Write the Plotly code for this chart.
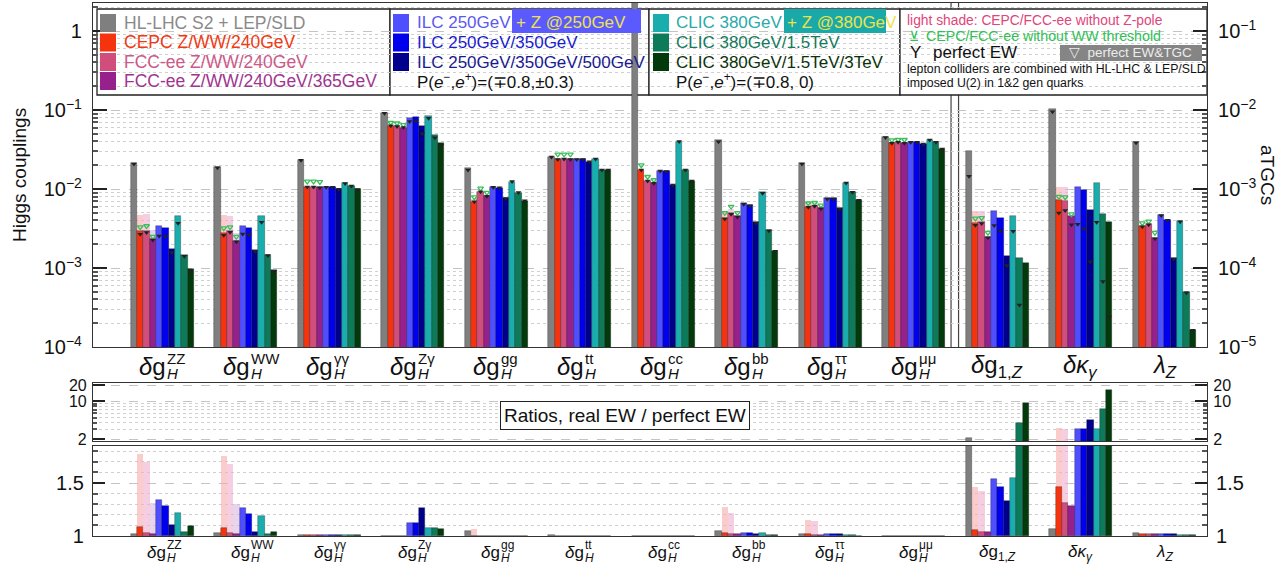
import plotly.graph_objects as go

# ---------------- data ----------------
categories = ["ZZ", "WW", "γγ", "Zγ", "gg", "tt", "cc", "bb", "ττ", "μμ", "g1Z", "κγ", "λZ"]
higgs_sup = ["ZZ", "WW", "γγ", "Zγ", "gg", "tt", "cc", "bb", "ττ", "μμ"]
atgc_labels = ["<i>δ</i>g<sub>1,<i>Z</i></sub>", "<i>δκ</i><sub><i>γ</i></sub>", "<i>λ</i><sub><i>Z</i></sub>"]

series_names = ["HL-LHC S2 + LEP/SLD", "CEPC Z/WW/240GeV", "FCC-ee Z/WW/240GeV",
                "FCC-ee Z/WW/240GeV/365GeV", "ILC 250GeV", "ILC 250GeV/350GeV",
                "ILC 250GeV/350GeV/500GeV", "CLIC 380GeV", "CLIC 380GeV/1.5TeV",
                "CLIC 380GeV/1.5TeV/3TeV"]
bar_colors = ["#7f7f7f", "#f5340f", "#d14d7c", "#96208c", "#4f4fff", "#0000ee",
              "#00008c", "#1aadad", "#0d7a5a", "#033a0c"]
text_colors = ["#8a8a8a", "#f03a14", "#cc5a88", "#a0358f", "#5a5aee", "#1c1cd0",
               "#1a1a90", "#2aaaaa", "#157a5c", "#0b330b"]

# precision on couplings (Higgs: left axis) and aTGCs (right axis)
hl_lhc   = [0.0211, 0.0191, 0.0233, 0.091, 0.0183, 0.0256, 5.0, 0.0417, 0.0211, 0.045, 0.00305, 0.0102, 0.00397]
cepc     = [0.0029, 0.0028, 0.0107, 0.063, 0.0069, 0.0237, 0.0174, 0.0043, 0.0060, 0.038, 0.000368, 0.00073, 0.00034]
fcc240   = [0.0029, 0.0029, 0.0107, 0.062, 0.0092, 0.0240, 0.0126, 0.0049, 0.0061, 0.039, 0.00038, 0.00070, 0.00036]
fcc365   = [0.0023, 0.0022, 0.0105, 0.060, 0.0081, 0.0237, 0.0118, 0.0045, 0.0057, 0.038, 0.00025, 0.00045, 0.00024]
ilc250   = [0.0034, 0.0034, 0.0106, 0.080, 0.0105, 0.0237, 0.0169, 0.0066, 0.0076, 0.039, 0.00053, 0.00107, 0.00047]
ilc350   = [0.0032, 0.0032, 0.0106, 0.081, 0.0104, 0.0237, 0.0167, 0.0063, 0.0076, 0.039, 0.00043, 0.00097, 0.00041]
ilc500   = [0.00173, 0.0017, 0.0100, 0.063, 0.0076, 0.0222, 0.0112, 0.0038, 0.0057, 0.037, 0.000143, 0.00054, 0.000133]
clic380  = [0.0045, 0.0045, 0.0118, 0.085, 0.0124, 0.0240, 0.0398, 0.0091, 0.0120, 0.0417, 0.00045, 0.00118, 0.00039]
clic1500 = [0.00147, 0.00147, 0.0110, 0.048, 0.0090, 0.0174, 0.0174, 0.0030, 0.0092, 0.039, 0.000133, 0.00048, 0.000049]
clic3000 = [0.00098, 0.00093, 0.0099, 0.038, 0.0071, 0.0174, 0.0126, 0.00164, 0.0072, 0.032, 0.000115, 0.000385, 0.0000164]

# light shade: CEPC / FCC-ee without Z-pole
cepc_noZ   = [0.0047, 0.0047, 0.0107, 0.063, 0.0074, 0.0237, 0.0174, 0.0052, 0.0066, 0.038, 0.00052, 0.00107, 0.00034]
fcc240_noZ = [0.0048, 0.0046, 0.0107, 0.062, 0.0095, 0.0240, 0.0126, 0.0056, 0.0066, 0.039, 0.00052, 0.00107, 0.00036]
fcc365_noZ = [0.0030, 0.0028, 0.0105, 0.060, 0.0081, 0.0237, 0.0118, 0.0045, 0.0057, 0.038, 0.00025, 0.00045, 0.00024]

# CEPC / FCC-ee without WW threshold (green markers)
cepc_noWW   = [0.0033, 0.0032, 0.0125, 0.069, 0.0079, 0.0275, 0.0200, 0.0050, 0.0066, 0.0415, 0.000425, 0.00080, 0.00037]
fcc240_noWW = [0.0034, 0.0033, 0.0125, 0.068, 0.0102, 0.0275, 0.0143, 0.0060, 0.0067, 0.0420, 0.00043, 0.00079, 0.00039]
fcc365_noWW = [0.0025, 0.0025, 0.0123, 0.065, 0.0090, 0.0275, 0.0130, 0.0050, 0.0062, 0.0420, 0.00028, 0.00048, 0.00028]

# ratios real EW / perfect EW
r_hl       = [1.02, 1.03, 1.01, 1.00, 1.05, 1.01, 1.00, 1.05, 1.02, 1.00, 2.10, 1.07, 1.03]
r_cepc     = [1.088, 1.075, 1.01, 1.00, 1.00, 1.00, 1.00, 1.03, 1.02, 1.00, 1.06, 1.465, 1.02]
r_fcc240   = [1.03, 1.025, 1.01, 1.00, 1.00, 1.00, 1.00, 1.02, 1.01, 1.00, 1.04, 1.31, 1.02]
r_fcc365   = [1.02, 1.02, 1.01, 1.00, 1.00, 1.00, 1.00, 1.02, 1.01, 1.00, 1.035, 1.28, 1.02]
r_ilc250   = [1.34, 1.26, 1.005, 1.12, 1.00, 1.00, 1.00, 1.03, 1.02, 1.00, 1.54, 3.0, 1.02]
r_ilc350   = [1.28, 1.21, 1.005, 1.12, 1.00, 1.00, 1.00, 1.03, 1.02, 1.00, 1.465, 3.1, 1.02]
r_ilc500   = [1.10, 1.04, 1.005, 1.26, 1.00, 1.00, 1.00, 1.02, 1.02, 1.00, 1.33, 4.5, 1.02]
r_clic380  = [1.22, 1.19, 1.005, 1.08, 1.00, 1.00, 1.00, 1.03, 1.01, 1.00, 1.545, 3.1, 1.01]
r_clic1500 = [1.04, 1.02, 1.005, 1.08, 1.00, 1.00, 1.00, 1.01, 1.01, 1.00, 3.9, 7.1, 1.01]
r_clic3000 = [1.09, 1.04, 1.005, 1.07, 1.00, 1.00, 1.00, 1.01, 1.00, 1.00, 9.4, 16.1, 1.01]
r_cepc_noZ   = [1.77, 1.755, 1.01, 1.00, 1.07, 1.00, 1.00, 1.27, 1.15, 1.00, 1.46, 3.16, 1.02]
r_fcc240_noZ = [1.70, 1.68, 1.01, 1.00, 1.00, 1.00, 1.00, 1.22, 1.14, 1.00, 1.42, 3.1, 1.02]
r_fcc365_noZ = [1.31, 1.30, 1.01, 1.00, 1.00, 1.00, 1.00, 1.02, 1.01, 1.00, 1.04, 1.28, 1.02]

values = [hl_lhc, cepc, fcc240, fcc365, ilc250, ilc350, ilc500, clic380, clic1500, clic3000]
ratios = [r_hl, r_cepc, r_fcc240, r_fcc365, r_ilc250, r_ilc350, r_ilc500, r_clic380, r_clic1500, r_clic3000]
shade_vals = {1: cepc_noZ, 2: fcc240_noZ, 3: fcc365_noZ}
shade_ratios = {1: r_cepc_noZ, 2: r_fcc240_noZ, 3: r_fcc365_noZ}
noww_vals = {1: cepc_noWW, 2: fcc240_noWW, 3: fcc365_noWW}
shade_colors = {1: "rgba(246,170,170,0.6)", 2: "rgba(238,175,205,0.6)", 3: "rgba(215,185,225,0.6)"}

# ---------------- geometry ----------------
W, H = 1285, 566
L, R, T, B = 93, 78, 3, 30
PW, PH = W - L - R, H - T - B
def xp(px): return (px - L) / PW
def yp(py): return (H - B - py) / PH

FONT = "Liberation Sans, Arial, sans-serif"
NH = 10  # number of Higgs couplings
bw = 0.0755
XR = [-0.83, 12.51]

fig = go.Figure()
edge = dict(width=0.6, color="rgba(0,0,0,0.45)")

def xs_for(j, idx):
    return [i + (j - 4.5) * bw for i in idx]

hidx = list(range(NH))
aidx = list(range(NH, len(categories)))
allidx = list(range(len(categories)))

# light shades (behind)
for j in (1, 2, 3):
    v = shade_vals[j]; r = shade_ratios[j]
    mk = dict(color=shade_colors[j], line=dict(width=0))
    fig.add_trace(go.Bar(x=xs_for(j, hidx), y=[v[i] for i in hidx], width=bw, marker=mk,
                         xaxis="x", yaxis="y", showlegend=False))
    fig.add_trace(go.Bar(x=xs_for(j, aidx), y=[v[i] for i in aidx], width=bw, marker=mk,
                         xaxis="x", yaxis="y2", showlegend=False))
    fig.add_trace(go.Bar(x=xs_for(j, allidx), y=r, width=bw, marker=mk,
                         xaxis="x2", yaxis="y3", showlegend=False))
    fig.add_trace(go.Bar(x=xs_for(j, allidx), y=[x - 1 for x in r], base=1, width=bw, marker=mk,
                         xaxis="x3", yaxis="y4", showlegend=False))

# main bars
for j in range(10):
    v = values[j]; r = ratios[j]
    mk = dict(color=bar_colors[j], line=edge)
    fig.add_trace(go.Bar(x=xs_for(j, hidx), y=[v[i] for i in hidx], width=bw, marker=mk,
                         xaxis="x", yaxis="y", name=series_names[j], showlegend=False))
    fig.add_trace(go.Bar(x=xs_for(j, aidx), y=[v[i] for i in aidx], width=bw, marker=mk,
                         xaxis="x", yaxis="y2", showlegend=False))
    fig.add_trace(go.Bar(x=xs_for(j, allidx), y=r, width=bw, marker=mk,
                         xaxis="x2", yaxis="y3", showlegend=False))
    fig.add_trace(go.Bar(x=xs_for(j, allidx), y=[x - 1 for x in r], base=1, width=bw, marker=mk,
                         xaxis="x3", yaxis="y4", showlegend=False))

# green markers: without WW threshold
for j in (1, 2, 3):
    v = noww_vals[j]
    mk = dict(symbol="triangle-down-open", size=5, color="#3cbf5a", line=dict(width=1.3))
    fig.add_trace(go.Scatter(x=xs_for(j, hidx), y=[v[i] for i in hidx], mode="markers", marker=mk,
                             xaxis="x", yaxis="y", showlegend=False))
    fig.add_trace(go.Scatter(x=xs_for(j, aidx), y=[v[i] for i in aidx], mode="markers", marker=mk,
                             xaxis="x", yaxis="y2", showlegend=False))

# perfect EW markers (value / ratio)
for j in range(10):
    v = values[j]; r = ratios[j]
    pe = [v[i] / r[i] for i in allidx]
    mk = dict(symbol="triangle-down", size=5, color="#222")
    fig.add_trace(go.Scatter(x=xs_for(j, hidx), y=[pe[i] for i in hidx], mode="markers", marker=mk,
                             xaxis="x", yaxis="y", showlegend=False))
    fig.add_trace(go.Scatter(x=xs_for(j, aidx), y=[pe[i] for i in aidx], mode="markers", marker=mk,
                             xaxis="x", yaxis="y2", showlegend=False))

# dummy traces for right-hand axes of bottom panel
fig.add_trace(go.Scatter(x=[None], y=[None], xaxis="x2", yaxis="y5", showlegend=False))
fig.add_trace(go.Scatter(x=[None], y=[None], xaxis="x3", yaxis="y6", showlegend=False))

sup = lambda e: "10<sup>−%d</sup>" % e
minor_log = lambda lo, hi: [k * 10 ** e for e in range(lo, hi) for k in range(2, 10)]
LINE = dict(showline=True, linecolor="#333", linewidth=1.2, zeroline=False, automargin=False)
TF20 = dict(family=FONT, size=20, color="#111")
TF16 = dict(family=FONT, size=16, color="#111")
xcommon = dict(domain=[0, 1], range=XR, showticklabels=False, ticks="", showgrid=False, mirror=True, **LINE)

fig.update_layout(
    width=W, height=H, margin=dict(l=L, r=R, t=T, b=B, autoexpand=False),
    paper_bgcolor="white", plot_bgcolor="white", barmode="overlay", bargap=0,
    font=dict(family=FONT, color="#111"),
    xaxis=dict(anchor="y", **xcommon),
    yaxis=dict(type="log", domain=[yp(347), 1], range=[-4, 0.3544], anchor="x",
               tickvals=[1e-4, 1e-3, 1e-2, 1e-1, 1], ticktext=[sup(4), sup(3), sup(2), sup(1), "1"],
               ticks="inside", ticklen=14, tickwidth=1.5, tickcolor="#222", ticklabelstandoff=6,
               minor=dict(tickvals=minor_log(-4, 1), ticks="inside", ticklen=5, tickcolor="#555",
                          showgrid=True, gridcolor="#d0d0d0", griddash="dot"),
               showgrid=True, gridcolor="#c4c4c4", griddash="dash", tickfont=TF20, **LINE),
    yaxis2=dict(type="log", overlaying="y", side="right", range=[-5, -0.6456], anchor="x",
                tickvals=[1e-5, 1e-4, 1e-3, 1e-2, 1e-1], ticktext=[sup(5), sup(4), sup(3), sup(2), sup(1)],
                ticks="inside", ticklen=14, tickwidth=1.5, tickcolor="#222", ticklabelstandoff=6,
                minor=dict(tickvals=minor_log(-5, 0), ticks="inside", ticklen=5, tickcolor="#555", showgrid=False),
                showgrid=False, tickfont=TF20, **LINE),
    xaxis2=dict(anchor="y3", **xcommon),
    yaxis3=dict(type="log", domain=[yp(441), yp(383)], range=[0.264, 1.338], anchor="x2",
                tickvals=[2, 10, 20], ticktext=["2", "10", "20"],
                ticks="inside", ticklen=12, tickwidth=1.5, tickcolor="#222", ticklabelstandoff=2,
                minor=dict(tickvals=[3, 4, 5, 6, 7, 8, 9], ticks="inside", ticklen=4, tickcolor="#555",
                           showgrid=True, gridcolor="#d0d0d0", griddash="dot"),
                showgrid=True, gridcolor="#c4c4c4", griddash="dash", tickfont=TF16, **LINE),
    yaxis5=dict(type="log", overlaying="y3", side="right", range=[0.264, 1.338], anchor="x2",
                tickvals=[2, 10, 20], ticktext=["2", "10", "20"],
                ticks="inside", ticklen=12, tickwidth=1.5, tickcolor="#222", ticklabelstandoff=2,
                minor=dict(tickvals=[3, 4, 5, 6, 7, 8, 9], ticks="inside", ticklen=4, tickcolor="#555"),
                showgrid=False, tickfont=TF16, **LINE),
    xaxis3=dict(anchor="y4", **xcommon),
    yaxis4=dict(domain=[0, yp(446)], range=[1, 1.849], anchor="x3",
                tickvals=[1, 1.5], ticktext=["1", "1.5"],
                ticks="inside", ticklen=12, tickwidth=1.5, tickcolor="#222", ticklabelstandoff=4,
                minor=dict(tickvals=[1.1, 1.2, 1.3, 1.4, 1.6, 1.7, 1.8], ticks="inside", ticklen=5,
                           tickcolor="#555", showgrid=True, gridcolor="#d0d0d0", griddash="dot"),
                showgrid=True, gridcolor="#c4c4c4", griddash="dash", tickfont=TF20, **LINE),
    yaxis6=dict(overlaying="y4", side="right", range=[1, 1.849], anchor="x3",
                tickvals=[1, 1.5], ticktext=["1", "1.5"],
                ticks="inside", ticklen=12, tickwidth=1.5, tickcolor="#222", ticklabelstandoff=4,
                minor=dict(tickvals=[1.1, 1.2, 1.3, 1.4, 1.6, 1.7, 1.8], ticks="inside", ticklen=5, tickcolor="#555"),
                showgrid=False, tickfont=TF20, **LINE),
)

shapes = []
annos = []

def A(x, y, text, size, color="#111", xanchor="left", **kw):
    d = dict(xref="paper", yref="paper", x=xp(x), y=yp(y), xanchor=xanchor, yanchor="middle",
             text=text, showarrow=False, font=dict(family=FONT, size=size, color=color), borderpad=0)
    d.update(kw)
    annos.append(d)

def rect(x0, x1, y0, y1, fill, line=None, layer="above"):
    shapes.append(dict(type="rect", xref="paper", yref="paper", x0=xp(x0), x1=xp(x1), y0=yp(y1), y1=yp(y0),
                       line=line or dict(width=0), fillcolor=fill, layer=layer))

# separator between Higgs couplings and aTGCs
for xv in (9.445, 9.535):
    shapes.append(dict(type="line", xref="x", yref="paper", x0=xv, x1=xv, y0=yp(347), y1=1.0,
                       line=dict(color="#444", width=1.2), layer="below"))

# legend boxes
for x0, x1 in [(97, 390), (390, 649), (649, 900), (900, 1207)]:
    rect(x0, x1, 9, 95, "white", dict(color="#222", width=1.3), layer="below")

rows = [23, 42.5, 62, 81]
def legend_item(sq_x, txt_x, row_y, color, tcolor, text, size):
    rect(sq_x, sq_x + 16, row_y - 9, row_y + 9, color)
    A(txt_x, row_y, text, size, tcolor)

for k in range(4):
    legend_item(100, 123, rows[k], bar_colors[k], text_colors[k], series_names[k], 17.5)
# ILC
rect(512, 641, 9, 33, "#5a5aff")
for k in range(3):
    legend_item(393, 416, rows[k], bar_colors[4 + k], text_colors[4 + k], series_names[4 + k], 17)
A(515, 22, "+ Z @250GeV", 17, "#eee24a")
A(416, 81, "P(<i>e</i><sup>−</sup>,<i>e</i><sup>+</sup>)=(∓0.8,±0.3)", 17)
# CLIC
rect(784, 886, 9, 33, "#1aa9a9")
for k in range(3):
    legend_item(653, 675, rows[k], bar_colors[7 + k], text_colors[7 + k], series_names[7 + k], 17)
A(786, 22, "+ Z @380GeV", 17, "#eee24a")
A(675, 81, "P(<i>e</i><sup>−</sup>,<i>e</i><sup>+</sup>)=(∓0.8, 0)", 17)
# notes box
A(906, 20, "light shade: CEPC/FCC-ee without Z-pole", 13.8, "#e0457a")
A(908, 35.5, "⊻", 14, "#2fbf55")
A(925, 35.5, "CEPC/FCC-ee without WW threshold", 14.2, "#2fbf55")
A(909, 52.5, "Y", 17)
A(932, 52.5, "perfect EW", 17)
rect(1060, 1202, 45, 61, "#858585")
A(1068, 53, "▽  perfect EW&TGC", 13.5, "#ececec")
A(906, 68.5, "lepton colliders are combined with HL-LHC & LEP/SLD", 12.3)
A(906, 83, "imposed U(2) in 1&2 gen quarks", 12.3)

# ratio box
A(625, 415, "Ratios, real EW / perfect EW", 19, xanchor="center", bordercolor="#222", borderwidth=1,
  borderpad=3, bgcolor="white")

# axis titles
A(19, 175, "Higgs couplings", 19, xanchor="center", textangle=-90)
A(1268, 175, "aTGCs", 19, xanchor="center", textangle=90)

# category labels
def add_label(i, ymain, ysub, ysup, fmain, fsub, xm, xs):
    if i < NH:
        annos.append(dict(xref="x", yref="paper", x=i, y=yp(ymain), xanchor="right", yanchor="middle",
                          xshift=xm, text="<i>δ</i>g", showarrow=False, borderpad=0,
                          font=dict(family=FONT, size=fmain, color="#111")))
        annos.append(dict(xref="x", yref="paper", x=i, y=yp(ysub), xanchor="left", yanchor="middle",
                          xshift=xs, text="<i>H</i>", showarrow=False, borderpad=0,
                          font=dict(family=FONT, size=fsub, color="#111")))
        annos.append(dict(xref="x", yref="paper", x=i, y=yp(ysup), xanchor="left", yanchor="middle",
                          xshift=xs, text=higgs_sup[i], showarrow=False, borderpad=0,
                          font=dict(family=FONT, size=fsub, color="#111")))
    else:
        annos.append(dict(xref="x", yref="paper", x=i, y=yp(ymain + 1), xanchor="center", yanchor="middle",
                          text=atgc_labels[i - NH], showarrow=False, borderpad=0,
                          font=dict(family=FONT, size=fmain, color="#111")))

for i in allidx:
    add_label(i, 366, 373.5, 358.5, 24, 15, 5, 4)
    add_label(i, 552, 558, 545, 17, 12, 5, 4)

fig.update_layout(shapes=shapes, annotations=annos)
fig.write_html("out.html", config={"displayModeBar": False},
               post_script="document.body.style.margin='0px';document.body.style.padding='0px';")
